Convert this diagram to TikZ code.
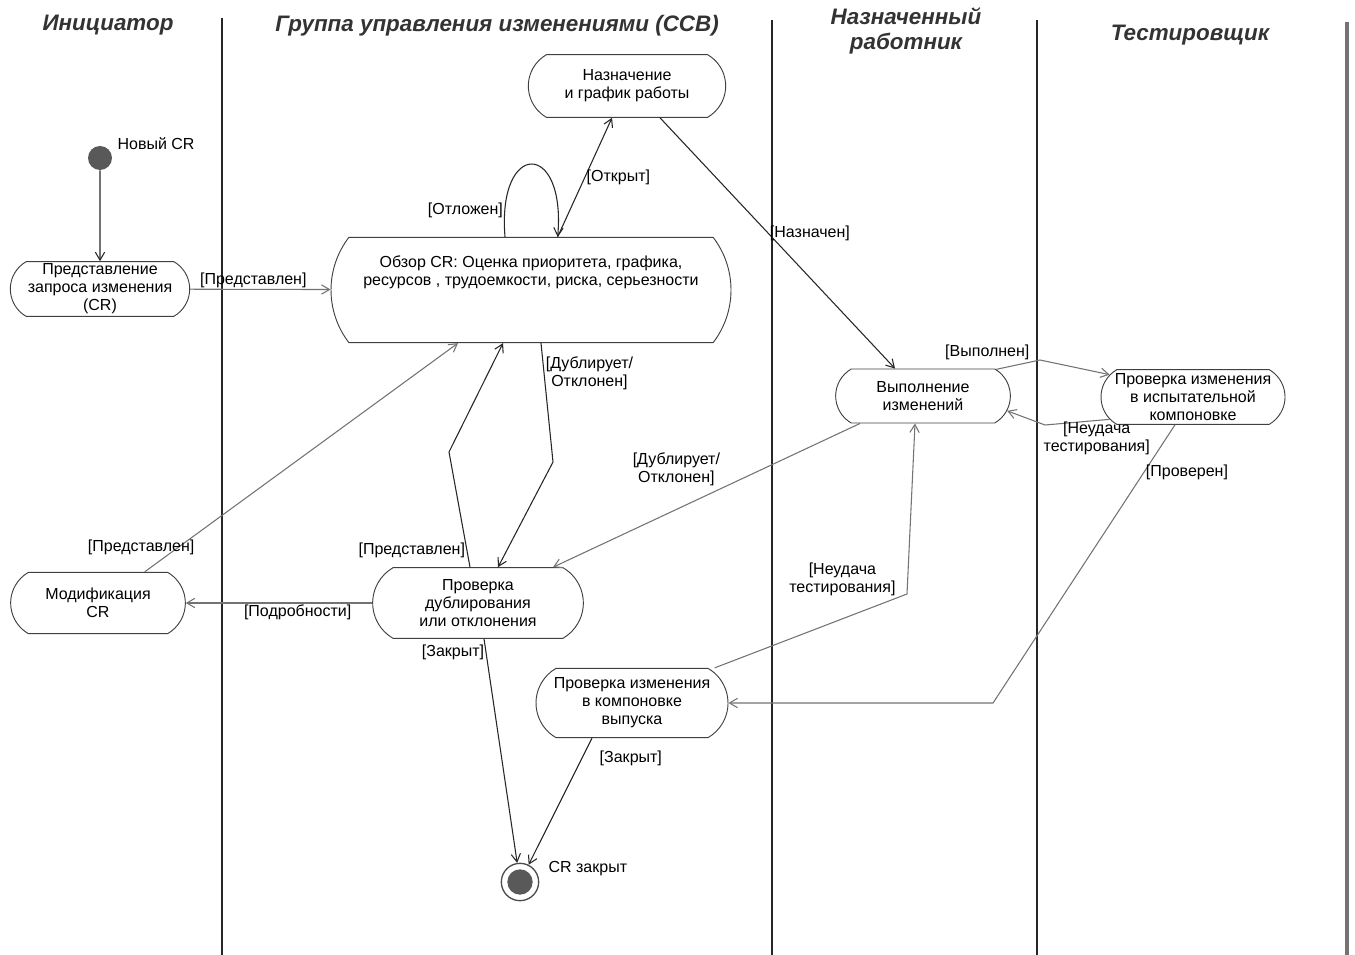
\documentclass[tikz,border=0pt]{standalone}
\usepackage{fontspec}
\setmainfont{Liberation Sans}
\usetikzlibrary{arrows.meta,shapes.misc}

\definecolor{flowgray}{gray}{0.45}
\definecolor{dotgray}{gray}{0.35}

\tikzset{
  act/.style={rounded rectangle, rounded rectangle arc length=120, draw=black!75,
    line width=0.7pt, align=center, inner sep=1pt,
    font=\fontsize{12}{13.5}\selectfont},
  guard/.style={font=\fontsize{12}{13.5}\selectfont, inner sep=1pt, align=center},
  flow/.style={->, draw=black!85, line width=0.8pt},
  flowlt/.style={flow, draw=flowgray},
  lane/.style={line width=1.2pt, draw=black!85},
  lanehead/.style={font=\fontsize{16.8}{19}\selectfont\bfseries\itshape, text=black!80, align=center}
}

\begin{document}
\begin{tikzpicture}[x=0.75pt, y=-0.75pt, >={Straight Barb[length=6pt,width=7pt]}]
  \useasboundingbox (0,0) rectangle (1355,955);

  % swimlanes
  \draw[lane] (222,18) -- (222,955);
  \draw[lane] (772,20) -- (772,955);
  \draw[lane] (1037,20) -- (1037,955);
  \draw[lane, line width=2.5pt, draw=black!55] (1347,22) -- (1347,955);

  \node[lanehead] (h1) at (108,25) {Инициатор};
  \node[lanehead] (h2) at (497,26) {Группа управления изменениями (CCB)};
  \node[lanehead] (h3) at (906,31) {Назначенный\\работник};
  \node[lanehead] (h4) at (1190,35) {Тестировщик};

  % start / end
  \node[circle, fill=dotgray, minimum size=18pt, inner sep=0pt] (init) at (100,158) {};
  \node[guard, anchor=west] (initlbl) at (116,144) {Новый CR};
  \node[circle, draw=black!70, line width=1pt, minimum size=28pt, inner sep=0pt] (final) at (520,882) {};
  \node[circle, fill=dotgray, minimum size=19pt, inner sep=0pt] (finaldot) at (final) {};
  \node[guard, anchor=west] (finallbl) at (547,869) {CR закрыт};

  % activities
  \node[act, minimum width=150pt, minimum height=47pt] (sched) at (627,86) {Назначение\\и график работы};
  \node[act, minimum width=136.5pt, minimum height=41pt] (submit) at (100,289) {Представление\\запроса изменения\\(CR)};
  \node[act, rounded rectangle arc length=75, minimum width=302pt, minimum height=79pt, text depth=29pt] (review) at (531,290)
    {Обзор CR: Оценка приоритета, графика,\\ресурсов , трудоемкости, риска, серьезности};
  \node[act, minimum width=133pt, minimum height=40.5pt] (exec) at (923,396) {Выполнение\\изменений};
  \node[act, minimum width=140pt, minimum height=41pt] (test) at (1193,397) {Проверка изменения\\в испытательной\\компоновке};
  \node[act, minimum width=160pt, minimum height=53pt] (dup) at (478,603) {Проверка\\дублирования\\или отклонения};
  \node[act, minimum width=133pt, minimum height=46pt] (modify) at (98,603) {Модификация\\CR};
  \node[act, minimum width=146pt, minimum height=52pt] (release) at (632,703) {Проверка изменения\\в компоновке\\выпуска};

  % bends
  \coordinate (b1) at (1040,360);
  \coordinate (b2) at (1045,425);
  \coordinate (b3) at (993,703);
  \coordinate (b4) at (553,462);
  \coordinate (b5) at (449,452);
  \coordinate (b6) at (907,594);

  % transitions
  \draw[flow] (init) -- (submit);
  \draw[flowlt] (submit) -- node[guard, above, pos=0.45] (g1) {[Представлен]} (review);
  \draw[flow] ([xshift=-19.5pt]review.north) .. controls (497,140) and (566,140) .. node[guard, left, pos=0.1] (g2) {[Отложен]} ([xshift=20pt]review.north);
  \draw[flow] ([xshift=20pt]review.north) -- node[guard, right, pos=0.5] (g3) {[Открыт]} ([xshift=-11.25pt]sched.south);
  \draw[flow] ([xshift=24.75pt]sched.south) -- node[guard, right, pos=0.46] (g4) {[Назначен]} ([xshift=-21pt]exec.north);
  \draw[flowlt] (exec.20) -- node[guard, above left, pos=0.8] (g5) {[Выполнен]} (b1) -- (test.165);
  \draw[flowlt] (test.195) -- node[guard, below, pos=0.2] (g6) {[Неудача\\тестирования]} (b2) -- (exec.-10);
  \draw[flowlt] ([xshift=-13.5pt]test.south) -- node[guard, right, pos=0.17] (g7) {[Проверен]} (b3) -- (release.east);
  \draw[flowlt] ([xshift=-47.25pt]exec.south) -- node[guard, above left, pos=0.45] (g8) {[Дублирует/\\Отклонен]} ([xshift=56.25pt]dup.north);
  \draw[flow] ([xshift=7.5pt]review.south) -- node[guard, right, pos=0.25] (g9) {[Дублирует/\\Отклонен]} (b4) -- ([xshift=15pt]dup.north);
  \draw[flow] ([xshift=-6pt]dup.north) -- node[guard, left, pos=0.15] (g10) {[Представлен]} (b5) -- ([xshift=-21pt]review.south);
  \draw[flowlt] ([xshift=35pt]modify.north) -- node[guard, pos=0.108, xshift=-28pt] (g11) {[Представлен]} ([xshift=-54.75pt]review.south);
  \draw[flowlt] (dup.west) -- node[guard, below, pos=0.4] (g12) {[Подробности]} (modify.east);
  \draw[flow] ([xshift=4.5pt]dup.south) -- node[guard, left, pos=0.06] (g13) {[Закрыт]} (final);
  \draw[flow] ([xshift=-30pt]release.south) -- node[guard, right, pos=0.16, xshift=12pt] (g14) {[Закрыт]} (final);
  \draw[flowlt] ([xshift=62pt]release.north) -- node[guard, above left, pos=0.95] (g15) {[Неудача\\тестирования]} (b6) -- ([xshift=-6pt]exec.south);
\end{tikzpicture}
\end{document}
